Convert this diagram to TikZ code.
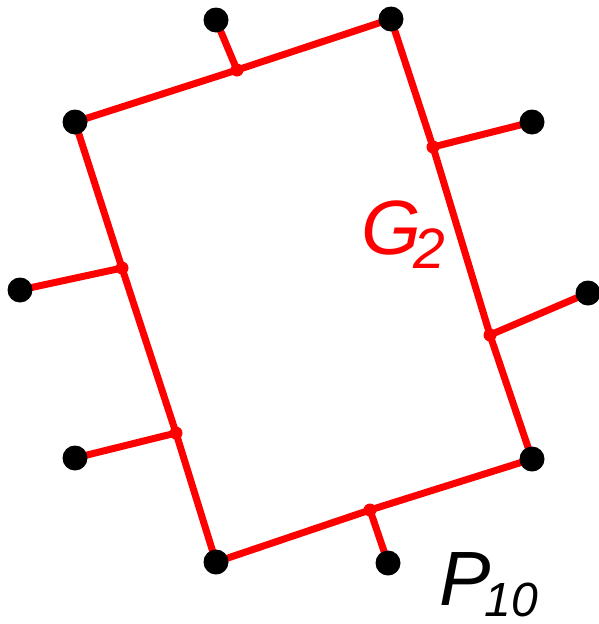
\documentclass[tikz,border=0pt]{standalone}
\usepackage{fontspec}
\setmainfont{Liberation Sans}
\begin{document}
\begin{tikzpicture}[x=1pt,y=-1pt,
  edge/.style={red, line width=7pt, line cap=round, line join=round},
  vtx/.style={circle, fill=black, inner sep=0pt, minimum size=25pt},
  sub/.style={circle, fill=red, inner sep=0pt, minimum size=13pt},
  lbl/.style={anchor=base west, inner sep=0pt}]
\useasboundingbox (0,0) rectangle (598,624);
% outer vertices
\coordinate (C) at (75,122);
\coordinate (B) at (391,19);
\coordinate (H) at (532,459);
\coordinate (I) at (216,562);
\coordinate (A) at (216,20);
\coordinate (D) at (532,122);
\coordinate (F) at (588,293);
\coordinate (E) at (20,290);
\coordinate (G) at (75,458);
\coordinate (J) at (388,563);
% subdivision points
\coordinate (s1) at (237,70);
\coordinate (s2) at (433,147);
\coordinate (s3) at (490,335);
\coordinate (s4) at (122,268);
\coordinate (s5) at (176,433);
\coordinate (s6) at (370,510);
\draw[edge] (C) -- (s1) -- (B) -- (s2) -- (s3) -- (H) -- (s6) -- (I) -- (s5) -- (s4) -- cycle;
\draw[edge] (A) -- (s1);
\draw[edge] (D) -- (s2);
\draw[edge] (F) -- (s3);
\draw[edge] (E) -- (s4);
\draw[edge] (G) -- (s5);
\draw[edge] (J) -- (s6);
\foreach \p in {s1,s2,s3,s4,s5,s6} \node[sub] (n\p) at (\p) {};
\foreach \p in {A,B,C,D,E,F,G,H,I,J} \node[vtx] (n\p) at (\p) {};
\node[lbl, red] (g2) at (361,254)
  {\fontsize{77}{77}\selectfont\itshape G\kern-8pt\raisebox{-14pt}{\fontsize{57}{57}\selectfont 2}};
\node[lbl, black] (p10) at (439,605)
  {\fontsize{77}{77}\selectfont\itshape P\kern-6pt\raisebox{-11pt}{\fontsize{48}{48}\selectfont 10}};
\end{tikzpicture}
\end{document}
